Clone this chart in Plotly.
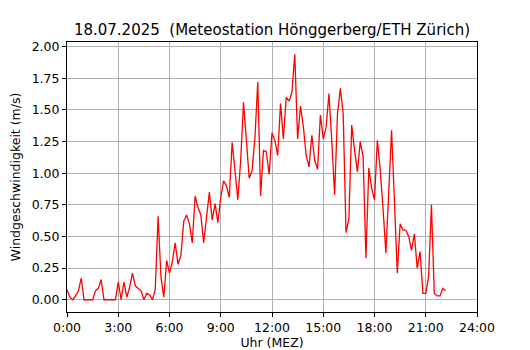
import plotly.graph_objects as go

# Wind speed every 10 minutes starting at 0:00 (m/s)
wind_speed = [
    0.08, 0.02, 0.00, 0.03, 0.07, 0.17, 0.00, 0.00, 0.00, 0.00,
    0.07, 0.09, 0.16, 0.00, 0.00, 0.00, 0.00, 0.00, 0.14, 0.00,
    0.14, 0.02, 0.10, 0.21, 0.11, 0.09, 0.07, 0.00, 0.05, 0.04,
    0.00, 0.08, 0.66, 0.18, 0.02, 0.31, 0.21, 0.30, 0.45, 0.28,
    0.35, 0.62, 0.67, 0.60, 0.45, 0.82, 0.73, 0.67, 0.45, 0.65,
    0.85, 0.63, 0.76, 0.61, 0.81, 0.94, 0.90, 0.81, 1.245, 1.02,
    0.79, 1.10, 1.56, 1.26, 0.96, 1.02, 1.28, 1.72, 0.82, 1.18,
    1.17, 0.99, 1.32, 1.26, 1.14, 1.55, 1.27, 1.60, 1.57, 1.64,
    1.94, 1.27, 1.53, 1.37, 1.14, 1.05, 1.30, 1.10, 1.03, 1.46,
    1.27, 1.36, 1.63, 1.25, 0.83, 1.47, 1.67, 1.47, 0.53, 0.64,
    1.38, 1.18, 1.01, 1.25, 1.13, 0.33, 1.04, 0.88, 0.79, 1.26,
    1.03, 0.72, 0.37, 0.85, 1.34, 0.78, 0.21, 0.60, 0.55, 0.55,
    0.50, 0.39, 0.52, 0.25, 0.38, 0.05, 0.05, 0.18, 0.75, 0.05,
    0.03, 0.03, 0.09, 0.07,
]
interval_minutes = 10
hours = [i * interval_minutes / 60 for i in range(len(wind_speed))]

x_tick_vals = [0, 3, 6, 9, 12, 15, 18, 21, 24]
x_tick_text = ["0:00", "3:00", "6:00", "9:00", "12:00", "15:00", "18:00", "21:00", "24:00"]
y_tick_vals = [0.0, 0.25, 0.5, 0.75, 1.0, 1.25, 1.5, 1.75, 2.0]

title_text = "18.07.2025  (Meteostation Hönggerberg/ETH Zürich)"
x_label = "Uhr (MEZ)"
y_label = "Windgeschwindigkeit (m/s)"

font_family = "DejaVu Sans"
label_size = 12.5

fig = go.Figure()
fig.add_trace(go.Scatter(
    x=hours, y=wind_speed, mode="lines",
    line=dict(color="#ff0000", width=1.3),
    showlegend=False,
))

axis_common = dict(
    showline=True, mirror=True, linecolor="black", linewidth=1,
    showgrid=True, gridcolor="#b0b0b0", gridwidth=1,
    ticks="outside", ticklen=4, tickcolor="black", tickwidth=1,
    zeroline=False, automargin=False,
    tickfont=dict(family=font_family, size=label_size, color="black"),
)

fig.update_layout(
    width=530, height=350,
    paper_bgcolor="white", plot_bgcolor="white",
    margin=dict(l=67, r=53, t=42, b=38),
    font=dict(family=font_family, color="black"),
    title=dict(
        text=title_text, x=0.5, xref="paper", xanchor="center",
        y=1 - 29.5 / 350, yanchor="middle",
        font=dict(family=font_family, size=15, color="black"),
    ),
    xaxis=dict(
        axis_common,
        range=[0, 24], tickvals=x_tick_vals, ticktext=x_tick_text,
        title=dict(text=x_label, font=dict(family=font_family, size=label_size), standoff=9),
    ),
    yaxis=dict(
        axis_common,
        range=[-0.097, 2.037], tickvals=y_tick_vals, tickformat=".2f",
        title=dict(text=y_label, font=dict(family=font_family, size=label_size), standoff=8),
    ),
)

fig.write_html(
    "out.html",
    config={"displayModeBar": False},
    post_script="document.body.style.margin='0';document.body.style.overflow='hidden';",
)
